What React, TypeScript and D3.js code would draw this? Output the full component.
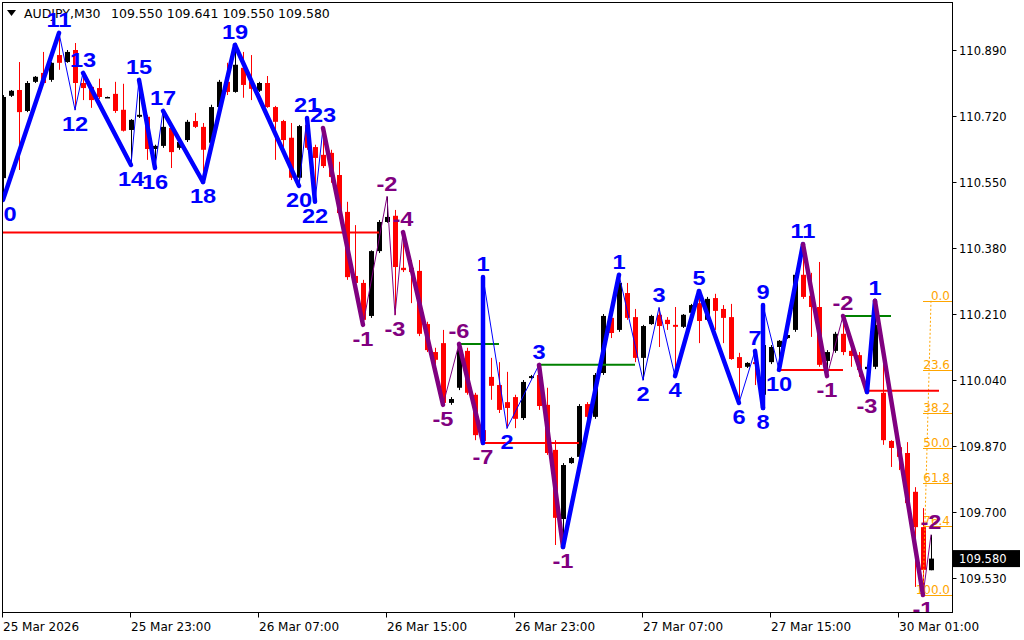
import React from "react";
import * as d3 from "d3";

// AUDJPY M30 candles, oldest first
const symbolName = "AUDJPY,M30";

const opens = [
  110.560, 110.772, 110.787, 110.733, 110.808, 110.831, 110.813, 110.877, 110.859, 110.890,
  110.805, 110.795, 110.792, 110.768, 110.777, 110.736, 110.684, 110.718, 110.718, 110.635,
  110.643, 110.689, 110.638, 110.658, 110.707, 110.692, 110.651, 110.743, 110.808, 110.782,
  110.844, 110.808, 110.785, 110.805, 110.743, 110.707, 110.664, 110.561, 110.697, 110.640,
  110.620, 110.625, 110.568, 110.473, 110.308, 110.290, 110.205, 110.372, 110.447, 110.463,
  110.329, 110.329, 110.321, 110.184, 110.112, 110.135, 109.981, 110.020, 110.115, 110.002,
  109.911, 110.048, 110.027, 109.983, 109.996, 109.942, 110.045, 110.053, 109.976, 109.860,
  109.682, 109.826, 109.842, 109.978, 109.945, 110.058, 110.200, 110.169, 110.264, 110.202,
  110.097, 110.184, 110.208, 110.195, 110.182, 110.177, 110.213, 110.238, 110.195, 110.251,
  110.223, 110.202, 110.099, 110.074, 110.086, 110.002, 110.086, 110.125, 110.148, 110.169,
  110.311, 110.257, 110.228, 110.089, 110.115, 110.159, 110.115, 110.104, 110.068, 110.074,
  110.007, 109.883, 109.867, 109.852, 109.752, 109.661, 109.550,
];
const highs = [
  110.774, 110.787, 110.859, 110.810, 110.823, 110.885, 110.859, 110.934, 110.890, 110.908,
  110.831, 110.800, 110.816, 110.770, 110.808, 110.803, 110.712, 110.813, 110.723, 110.646,
  110.733, 110.697, 110.658, 110.710, 110.728, 110.702, 110.749, 110.813, 110.857, 110.903,
  110.885, 110.877, 110.808, 110.823, 110.746, 110.710, 110.702, 110.697, 110.715, 110.646,
  110.689, 110.633, 110.602, 110.499, 110.439, 110.298, 110.374, 110.452, 110.512, 110.478,
  110.421, 110.349, 110.349, 110.190, 110.123, 110.169, 109.996, 110.133, 110.123, 110.007,
  110.305, 110.097, 110.086, 110.061, 110.002, 110.040, 110.053, 110.079, 110.020, 109.885,
  109.826, 109.842, 109.978, 109.983, 110.058, 110.210, 110.233, 110.311, 110.290, 110.223,
  110.182, 110.208, 110.226, 110.202, 110.228, 110.210, 110.236, 110.269, 110.254, 110.262,
  110.233, 110.236, 110.110, 110.086, 110.115, 110.233, 110.130, 110.143, 110.159, 110.316,
  110.390, 110.316, 110.344, 110.117, 110.164, 110.205, 110.123, 110.112, 110.079, 110.244,
  110.097, 109.885, 109.885, 109.880, 109.764, 109.710, 109.641,
];
const lows = [
  110.504, 110.769, 110.581, 110.730, 110.805, 110.800, 110.808, 110.839, 110.857, 110.736,
  110.761, 110.741, 110.764, 110.767, 110.728, 110.680, 110.594, 110.715, 110.607, 110.586,
  110.638, 110.586, 110.633, 110.653, 110.689, 110.550, 110.633, 110.741, 110.774, 110.780,
  110.767, 110.761, 110.782, 110.741, 110.607, 110.640, 110.555, 110.540, 110.633, 110.499,
  110.586, 110.548, 110.465, 110.298, 110.285, 110.182, 110.200, 110.367, 110.445, 110.208,
  110.318, 110.238, 110.153, 110.112, 110.071, 109.976, 109.976, 110.014, 110.002, 109.885,
  109.878, 109.989, 109.955, 109.916, 109.916, 109.937, 110.043, 109.963, 109.847, 109.615,
  109.610, 109.824, 109.837, 109.940, 109.940, 110.053, 110.148, 110.164, 110.195, 110.086,
  110.040, 110.182, 110.125, 110.169, 110.050, 110.174, 110.210, 110.135, 110.192, 110.169,
  110.135, 110.092, 109.981, 110.071, 110.027, 109.968, 110.081, 110.066, 110.146, 110.164,
  110.249, 110.151, 110.074, 110.050, 110.110, 110.104, 110.074, 110.048, 110.009, 110.068,
  109.873, 109.816, 109.808, 109.718, 109.507, 109.486, 109.550,
];
const closes = [
  110.769, 110.785, 110.730, 110.805, 110.821, 110.805, 110.857, 110.857, 110.885, 110.805,
  110.792, 110.761, 110.769, 110.769, 110.733, 110.682, 110.710, 110.723, 110.635, 110.643,
  110.692, 110.627, 110.653, 110.705, 110.692, 110.633, 110.743, 110.808, 110.782, 110.852,
  110.800, 110.790, 110.805, 110.743, 110.705, 110.658, 110.561, 110.694, 110.638, 110.612,
  110.591, 110.563, 110.470, 110.305, 110.290, 110.195, 110.372, 110.447, 110.460, 110.331,
  110.323, 110.318, 110.159, 110.117, 110.092, 109.981, 109.991, 110.117, 110.007, 109.898,
  109.883, 110.025, 109.963, 109.968, 109.940, 110.035, 110.050, 109.973, 109.852, 109.685,
  109.821, 109.839, 109.973, 109.945, 110.053, 110.205, 110.161, 110.290, 110.200, 110.097,
  110.179, 110.205, 110.179, 110.184, 110.177, 110.208, 110.233, 110.192, 110.249, 110.218,
  110.200, 110.094, 110.071, 110.084, 110.081, 110.130, 110.125, 110.141, 110.156, 110.311,
  110.254, 110.228, 110.079, 110.112, 110.159, 110.112, 110.102, 110.066, 110.074, 110.182,
  109.885, 109.865, 109.842, 109.723, 109.661, 109.551, 109.580,
];

// wave-count zigzag pivots
const pivotBar = [0, 7, 9, 10, 16, 17, 19, 20, 25, 29, 37, 38, 39, 40, 45, 48, 49, 50, 55, 57, 60, 60, 63, 67, 70, 77, 80, 82, 84, 87, 92, 94, 95, 95, 97, 100, 103, 105, 108, 109, 115, 116];
const pivotPrice = [
  110.504, 110.934, 110.736, 110.831, 110.594, 110.813, 110.586, 110.733, 110.550, 110.903,
  110.540, 110.715, 110.499, 110.689, 110.182, 110.512, 110.208, 110.421, 109.976, 110.133,
  109.878, 110.305, 109.916, 110.079, 109.610, 110.311, 110.040, 110.226, 110.050, 110.269,
  109.981, 110.115, 109.968, 110.233, 110.066, 110.390, 110.050, 110.205, 110.009, 110.244,
  109.486, 109.641,
];
const pivotLabel = ["0", "11", "12", "13", "14", "15", "16", "17", "18", "19", "20", "21", "22", "23", "-1", "-2", "-3", "-4", "-5", "-6", "-7", "1", "2", "3", "-1", "1", "2", "3", "4", "5", "6", "7", "8", "9", "10", "11", "-1", "-2", "-3", "1", "-1", "-2"];
// 1 = main leg (thick), 0 = minor leg, one per segment
const legMain = [1, 0, 0, 1, 0, 1, 0, 1, 1, 1, 0, 1, 0, 1, 0, 0, 0, 1, 0, 1, 1, 0, 0, 1, 1, 0, 0, 0, 1, 1, 0, 1, 1, 0, 1, 1, 0, 1, 1, 1, 0];

// breakout levels
const levelPrice = [110.420, 110.133, 109.878, 110.079, 110.066, 110.205, 110.012];
const levelFrom = [0, 57, 60, 67, 97, 105, 108];
const levelTo = [47, 62, 72, 79, 105, 111, 117];
const levelKind = ["low", "high", "low", "high", "low", "high", "low"];

// fibo retracement of the last leg
const fibHigh = 110.244;
const fibLow = 109.486;
const fibRatios = [0, 23.6, 38.2, 50.0, 61.8, 76.4, 100.0];

const priceTicks = [110.89, 110.72, 110.55, 110.38, 110.21, 110.04, 109.87, 109.7, 109.53];
const timeTickBars = [0, 16, 32, 48, 64, 80, 96, 112];
const timeTickLabels = ["25 Mar 2026", "25 Mar 23:00", "26 Mar 07:00", "26 Mar 15:00", "26 Mar 23:00", "27 Mar 07:00", "27 Mar 15:00", "30 Mar 01:00"];

const BLUE = "#0000ff";
const PURPLE = "#800080";
const BULL = "#000000";
const BEAR = "#ff0000";
const FIB = "#ffa500";
const axisFont = "DejaVu Sans, Verdana, sans-serif";

export default function App() {
  const left = 2.5, top = 2.5, right = 952.5, bottom = 612.5;
  const last = opens.length - 1;
  const x = d3.scaleLinear().domain([0, 116]).range([3, 931]);
  const y = d3.scaleLinear().domain([109.53, 110.89]).range([578, 50]);
  const line = d3.line<[number, number]>().x((d) => x(d[0])).y((d) => y(d[1]));

  const fmt = d3.format(".3f");
  const fibX0 = x(115);

  return (
    <svg
      width={1024}
      height={640}
      style={{ position: "fixed", left: 0, top: 0, background: "#fff" }}
      fontFamily={axisFont}
    >
      <defs>
        <clipPath id="plot">
          <rect x={left + 0.5} y={top + 0.5} width={right - left - 1} height={bottom - top - 1} />
        </clipPath>
      </defs>
      <rect x={0} y={0} width={1024} height={640} fill="#fff" />

      {/* header */}
      <polygon points="7,10 16,10 11.5,16" fill="#000" />
      <text x={24} y={18} fontSize={12.5} fill="#000">{symbolName}</text>
      {[opens[last], highs[last], lows[last], closes[last]].map((v, i) => (
        <text key={i} x={111 + i * 55.7} y={18} fontSize={12.5} fill="#000">{fmt(v)}</text>
      ))}

      <g clipPath="url(#plot)">
        {/* candles */}
        {opens.map((o, i) => {
          const c = closes[i];
          const col = c >= o ? BULL : BEAR;
          const cx = Math.round(x(i));
          const yt = y(Math.max(o, c));
          const yb = y(Math.min(o, c));
          return (
            <g key={i}>
              <line x1={cx + 0.5} x2={cx + 0.5} y1={y(highs[i])} y2={y(lows[i])} stroke={col} strokeWidth={1} />
              <rect x={cx - 2} y={yt} width={5} height={Math.max(1.5, yb - yt)} fill={col} />
            </g>
          );
        })}

        {/* fibo */}
        <line
          x1={x(116)} y1={y(fibHigh)} x2={x(115)} y2={y(fibLow)}
          stroke={FIB} strokeWidth={1} strokeDasharray="2,2"
        />
        {fibRatios.map((r) => {
          const p = fibHigh - (r / 100) * (fibHigh - fibLow);
          const yy = Math.round(y(p)) + 0.5;
          return (
            <g key={r}>
              <line x1={fibX0} x2={right} y1={yy} y2={yy} stroke={FIB} strokeWidth={1} />
              <text x={950} y={yy - 2} fontSize={12} fill={FIB} textAnchor="end">{r.toFixed(1)}</text>
            </g>
          );
        })}

        {/* levels */}
        {levelPrice.map((p, i) => (
          <line
            key={i}
            x1={x(levelFrom[i])} x2={x(levelTo[i])}
            y1={y(p)} y2={y(p)}
            stroke={levelKind[i] === "low" ? "#ff0000" : "#008000"}
            strokeWidth={2}
          />
        ))}

        {/* zigzag legs */}
        {legMain.map((m, i) => {
          const neg = pivotLabel[i + 1].startsWith("-");
          return (
            <path
              key={i}
              d={line([[pivotBar[i], pivotPrice[i]], [pivotBar[i + 1], pivotPrice[i + 1]]]) || ""}
              fill="none"
              stroke={neg ? PURPLE : BLUE}
              strokeWidth={m ? 4.5 : 1}
              strokeLinecap="round"
            />
          );
        })}

        {/* wave labels */}
        {pivotLabel.map((lab, i) => {
          const p = pivotPrice[i];
          const ref = i > 0 ? pivotPrice[i - 1] : pivotPrice[i + 1];
          const isHigh = p > ref;
          const py = y(p);
          const cx = Math.max(10, x(pivotBar[i]));
          const ty = isHigh ? py - 6 : py + 21;
          return (
            <text
              key={i}
              transform={`translate(${cx},${ty}) scale(1.18,1)`}
              textAnchor="middle"
              fontFamily="Liberation Sans, Arial, sans-serif"
              fontWeight="bold"
              fontSize={20}
              fill={lab.startsWith("-") ? PURPLE : BLUE}
            >
              {lab}
            </text>
          );
        })}
      </g>

      {/* frame */}
      <rect x={left} y={top} width={right - left} height={bottom - top} fill="none" stroke="#000" strokeWidth={1} />

      {/* price axis */}
      {priceTicks.map((t) => {
        const yy = Math.round(y(t)) + 0.5;
        return (
          <g key={t}>
            <line x1={right} x2={right + 4} y1={yy} y2={yy} stroke="#000" />
            <text x={959} y={yy + 4} fontSize={11.5} fill="#000">{fmt(t)}</text>
          </g>
        );
      })}
      <rect x={953} y={y(closes[last]) - 8.5} width={67} height={17} fill="#000" />
      <text x={959} y={y(closes[last]) + 4} fontSize={11.5} fill="#fff">{fmt(closes[last])}</text>

      {/* time axis */}
      {timeTickBars.map((b, i) => {
        const xx = Math.round(x(b)) - 0.5;
        return (
          <g key={b}>
            <line x1={xx} x2={xx} y1={bottom} y2={bottom + 5} stroke="#000" />
            <text x={xx + 0.5} y={631} fontSize={12} fill="#000">{timeTickLabels[i]}</text>
          </g>
        );
      })}
    </svg>
  );
}
